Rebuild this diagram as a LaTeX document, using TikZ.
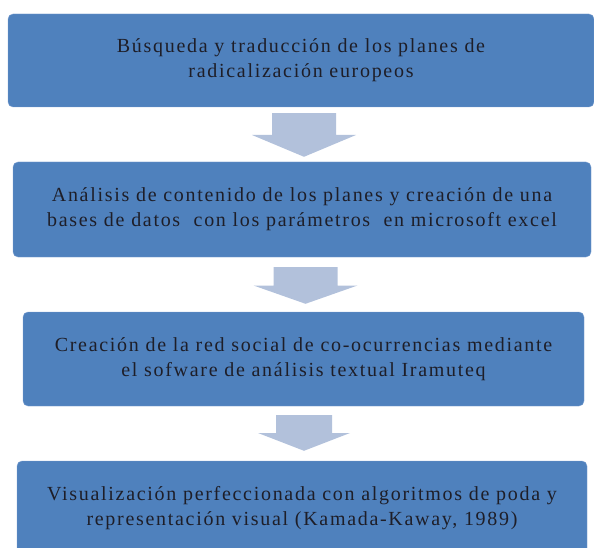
\documentclass[tikz,border=0pt]{standalone}
\usepackage{fontspec}
\setmainfont{Liberation Serif}[LetterSpace=8.5]
\usetikzlibrary{positioning}
\usetikzlibrary{calc}

\begin{document}
\begin{tikzpicture}[x=1pt, y=-1pt]
    \tikzset{every node/.style={font=\fontsize{20}{25}\selectfont}}

    % Farben
    \definecolor{Caja_azul}{RGB}{79,129,189}
    \definecolor{Caja_borde}{RGB}{125,160,208}
    \definecolor{Flecha_claro}{RGB}{178,193,219}
    \definecolor{Texto_oscuro}{RGB}{30,30,40}

    \useasboundingbox (0,0) rectangle (594,548);
    \clip (0,0) rectangle (594,548);

    % Cajas
    \node[rectangle, rounded corners=5pt, draw=Caja_borde, fill=Caja_azul, text=Texto_oscuro, align=center, minimum width=586pt, minimum height=93pt] (paso1) at (301,60.5) {Búsqueda y traducción de los planes de\\radicalización europeos};
    \node[rectangle, rounded corners=5pt, draw=Caja_borde, fill=Caja_azul, text=Texto_oscuro, align=center, minimum width=578pt, minimum height=95pt] (paso2) at (302,209.5) {Análisis de contenido de los planes y creación de una\\bases de datos\ \ con los parámetros\ \ en microsoft excel};
    \node[rectangle, rounded corners=5pt, draw=Caja_borde, fill=Caja_azul, text=Texto_oscuro, align=center, minimum width=561pt, minimum height=94pt] (paso3) at (303.5,359) {Creación de la red social de co-ocurrencias mediante\\el sofware de análisis textual Iramuteq};
    \node[rectangle, rounded corners=5pt, draw=Caja_borde, fill=Caja_azul, text=Texto_oscuro, align=center, minimum width=570pt, minimum height=94pt] (paso4) at (302,508) {Visualización perfeccionada con algoritmos de poda y\\representación visual (Kamada-Kaway, 1989)};

    % Flechas entre Cajas
    \foreach \a/\b/\ga/\gb/\sw/\hw in {paso1/paso2/6/5/32/52, paso2/paso3/10/8/32/52, paso3/paso4/9/10/28/46} {
        \coordinate (tip) at ($(\b.north)+(2,-\gb)$);
        \coordinate (top) at ($(\a.south -| tip)+(0,\ga)$);
        \coordinate (base) at ($(top)!0.5!(tip)$);
        \fill[Flecha_claro] ($(top)+(-\sw,0)$) -- ($(top)+(\sw,0)$) -- ($(base)+(\sw,0)$) -- ($(base)+(\hw,0)$) -- (tip) -- ($(base)+(-\hw,0)$) -- ($(base)+(-\sw,0)$) -- cycle;
    }

\end{tikzpicture}
\end{document}
